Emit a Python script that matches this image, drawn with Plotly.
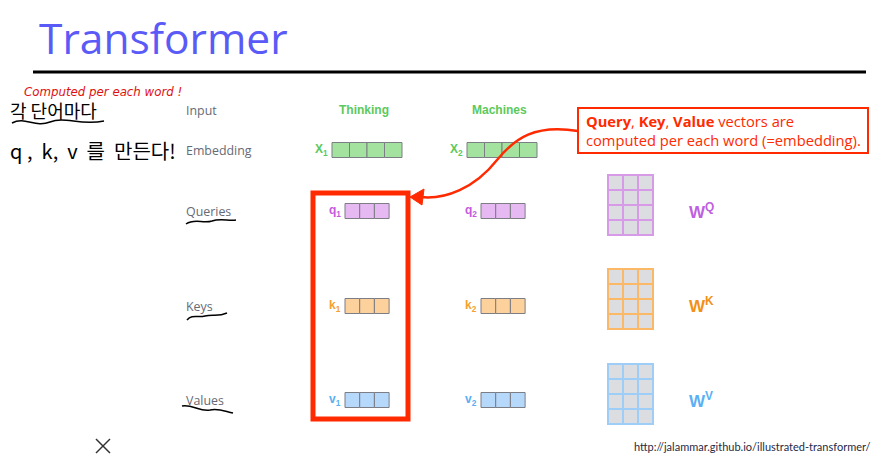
import plotly.graph_objects as go

# slide content
title = 'Transformer'
words = ['Thinking', 'Machines']
row_labels = ['Input', 'Embedding', 'Queries', 'Keys', 'Values']
vec_names = ['X', 'q', 'k', 'v']
vec_sizes = [4, 3, 3, 3]
weight_names = ['Q', 'K', 'V']
weight_rows = [4, 4, 4]
weight_cols = [3, 3, 3]
callout_lines = ['<b>Query</b>, <b>Key</b>, <b>Value</b> vectors are',
                 'computed per each word (=embedding).']
note_red = 'Computed per each word !'
note_kr = ['각 단어마다', 'q ,  k,  v  를  만든다!']
source = 'http://jalammar.github.io/illustrated-transformer/'

# styling
fill_cols = ['#a4e2a0', '#e6b9f3', '#fdd19b', '#b5d8fb']
label_cols = ['#5cc95c', '#c55bdc', '#f5a030', '#5aaef2']
grid_cols = ['#d79ae6', '#fbb968', '#9ecdf8']
w_cols = ['#c05fe0', '#f39016', '#5bb0f5']
red = '#ff2a00'
gray_txt = '#666a75'

label_x = 184
row_y = [110, 150, 211, 306, 400]
emb_x0 = [332, 467]
qkv_x0 = [345, 481]
emb_w, qkv_w, cell_h = 17.5, 14.7, 15
mat_x0, mat_y0, mat_cell = 608, [175, 269, 364], 15

# the page body sits 8px in from the window corner
page_off = 8

fig = go.Figure()
shapes = []
ann = []

def text(x, y, s, size, color, family='Open Sans', xanchor='left', **kw):
    ann.append(dict(x=x, y=y, text=s, showarrow=False, xref='x', yref='y',
                    xanchor=xanchor, yanchor='middle',
                    font=dict(size=size, color=color, family=family), **kw))

# title and rule
text(37, 37, title, 42.5, '#5a5af7')
shapes.append(dict(type='line', x0=33, x1=866, y0=72, y1=72,
                   line=dict(color='black', width=3)))

# row labels
for lab, y in zip(row_labels, row_y):
    text(label_x, y, lab, 12.4, gray_txt)

# word headers
for i, w in enumerate(words):
    cx = emb_x0[i] + vec_sizes[0] * emb_w / 2 - 3
    text(cx, row_y[0], '<b>%s</b>' % w, 12, label_cols[0],
         family='Liberation Sans', xanchor='center')

# vectors
for j, (name, n) in enumerate(zip(vec_names, vec_sizes)):
    y = row_y[j + 1]
    for i in range(len(words)):
        x0 = emb_x0[i] if j == 0 else qkv_x0[i]
        cw = emb_w if j == 0 else qkv_w
        text(x0 - 2, y, '<b>%s<sub>%d</sub></b>' % (name, i + 1), 12,
             label_cols[j], family='Liberation Sans', xanchor='right')
        for c in range(n):
            shapes.append(dict(type='rect', x0=x0 + c * cw, x1=x0 + (c + 1) * cw,
                               y0=y - cell_h / 2, y1=y + cell_h / 2,
                               fillcolor=fill_cols[j],
                               line=dict(color='#7d7d85', width=1)))

# weight matrices
for k, name in enumerate(weight_names):
    for r in range(weight_rows[k]):
        for c in range(weight_cols[k]):
            shapes.append(dict(type='rect',
                               x0=mat_x0 + c * mat_cell, x1=mat_x0 + (c + 1) * mat_cell,
                               y0=mat_y0[k] + r * mat_cell, y1=mat_y0[k] + (r + 1) * mat_cell,
                               fillcolor='#dcdde0',
                               line=dict(color=grid_cols[k], width=2)))
    text(687, mat_y0[k] + 36, '<b>W<sup>%s</sup></b>' % name, 17, w_cols[k],
         family='Liberation Sans')

# red highlight box
shapes.append(dict(type='rect', x0=313, x1=408, y0=193, y1=419,
                   line=dict(color=red, width=5)))

# callout
shapes.append(dict(type='rect', x0=578, x1=868, y0=108, y1=153,
                   fillcolor='white', line=dict(color=red, width=2)))
text(584, 121, callout_lines[0], 14.7, red)
text(584, 140, callout_lines[1], 14.7, red)

# curved arrow
shapes.append(dict(type='path',
                   path='M 578,131 C 535,124 515,138 497,160 C 475,188 445,200 420,197',
                   line=dict(color=red, width=2.5)))
shapes.append(dict(type='path', path='M 410,197 L 424,189 L 422,205 Z',
                   fillcolor=red, line=dict(color=red, width=1)))

# handwritten notes (annotations must stay inside the axis range)
text(22, 92, '<i>%s</i>' % note_red, 11.8, '#e01010', family='DejaVu Sans')
text(page_off, 110, note_kr[0], 18, 'black', family='Noto Sans CJK KR')
text(page_off, 150, note_kr[1], 20, 'black', family='Noto Sans CJK KR')
squiggles = [
    'M 12,123 C 25,116 35,128 50,122 C 65,116 80,126 104,121',
    'M 186,224 C 195,218 203,224 212,221 C 220,218 228,221 236,220',
    'M 187,320 C 192,314 198,318 205,316 C 213,314 218,317 227,313',
    'M 182,406 C 192,404 200,412 210,410 C 218,408 224,411 233,413',
]
for p in squiggles:
    shapes.append(dict(type='path', path=p, line=dict(color='black', width=1.5)))
shapes.append(dict(type='line', x0=96, x1=110, y0=439, y1=453,
                   line=dict(color='#333', width=1.5)))
shapes.append(dict(type='line', x0=110, x1=96, y0=439, y1=453,
                   line=dict(color='#333', width=1.5)))

# source
text(873, 446, source, 11, '#1f2a44', family='Lato', xanchor='right')

fig.update_layout(
    width=894, height=458,
    margin=dict(l=0, r=0, t=0, b=0),
    paper_bgcolor='white', plot_bgcolor='white',
    xaxis=dict(range=[page_off, 894 + page_off], visible=False, fixedrange=True),
    yaxis=dict(range=[458 + page_off, page_off], visible=False, fixedrange=True),
    shapes=shapes, annotations=ann, showlegend=False,
)
fig.write_html('out.html')
